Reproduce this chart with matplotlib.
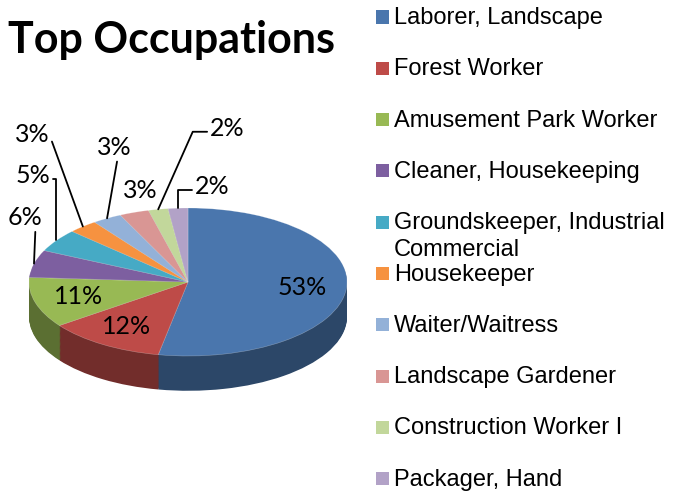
import numpy as np
import matplotlib
matplotlib.use('Agg')
import matplotlib.pyplot as plt
from matplotlib.colors import to_rgb
from matplotlib.patches import Rectangle

# data
occupations = ['Laborer, Landscape', 'Forest Worker', 'Amusement Park Worker',
               'Cleaner, Housekeeping', 'Groundskeeper, Industrial\nCommercial',
               'Housekeeper', 'Waiter/Waitress', 'Landscape Gardener',
               'Construction Worker I', 'Packager, Hand']
shares = [53, 12, 11, 6, 5, 3, 3, 3, 2, 2]
colors = ['#4A76AD', '#BE4B48', '#98B954', '#7D5FA0', '#46AAC5',
          '#F69240', '#93B1D8', '#D99694', '#C2D79B', '#B2A2C7']

W, H = 673, 493
fig = plt.figure(figsize=(W / 100, H / 100), dpi=100)

# pie geometry in pixels (top face ellipse)
cx, cy = 188, 282          # centre, y from top
rx, ry = 159, 74
depth = 0.47               # in units of ry

xl, yl_lo, yl_hi = 1.15, -1.75, 1.25
left = (cx - xl * rx) / W
width = 2 * xl * rx / W
bottom = (H - cy + yl_lo * ry) / H
height = (yl_hi - yl_lo) * ry / H
ax = fig.add_axes([left, bottom, width, height])

side_colors = [tuple(c * 0.6 for c in to_rgb(col)) for col in colors]

# extruded side: stack darker pies downwards
n_layers = 40
for k in range(n_layers, 0, -1):
    ax.pie(shares, colors=side_colors, startangle=90, counterclock=False,
           center=(0, -depth * k / n_layers), radius=1,
           wedgeprops=dict(linewidth=0, antialiased=True))

wedges, _, autotexts = ax.pie(
    shares, colors=colors, startangle=90, counterclock=False,
    center=(0, 0), radius=1,
    autopct=lambda p: f'{p:.0f}%' if p > 10 else '',
    pctdistance=0.72,
    wedgeprops=dict(linewidth=0.4, edgecolor=(1, 1, 1, 0.35)),
    textprops=dict(fontsize=18, family='Lato', color='black'))

ax.set_aspect('auto')
ax.set_xlim(-xl, xl)
ax.set_ylim(yl_lo, yl_hi)
ax.axis('off')

# outside labels with leader lines (offsets in pixels, style only)
label_style = {
    3: dict(off=(-9, 46), conn='arc3', rel=(0.8, 0.0)),
    4: dict(off=(-24, 65), conn='angle,angleA=0,angleB=90,rad=0', rel=(0.5, 0.35)),
    5: dict(off=(-51, 92), conn='angle,angleA=0,angleB=110,rad=0', rel=(0.5, 0.35)),
    6: dict(off=(7, 71), conn='arc3', rel=(0.6, 0.0)),
    7: dict(off=(6, 22), conn=None, rel=None),
    8: dict(off=(69, 81), conn='angle,angleA=0,angleB=66,rad=0', rel=(0.5, 0.35)),
    9: dict(off=(34, 22), conn='angle,angleA=0,angleB=90,rad=0', rel=(0.5, 0.35)),
}
cum = np.cumsum([0] + shares)
total = float(sum(shares))
for i, st in label_style.items():
    mid = (cum[i] + cum[i + 1]) / 2 / total
    theta = np.deg2rad(90 - 360 * mid)
    anchor = (np.cos(theta), np.sin(theta))
    arrow = None
    if st['conn'] is not None:
        arrow = dict(arrowstyle='-', color='black', lw=1.3,
                     connectionstyle=st['conn'], relpos=st['rel'],
                     shrinkA=0, shrinkB=0)
    ax.annotate(f'{shares[i]}%', xy=anchor, xytext=st['off'],
                textcoords='offset pixels', ha='center', va='center',
                fontsize=18, family='Lato', arrowprops=arrow)

# title
fig.text(8 / W, 1 - 40 / H, 'Top Occupations', fontsize=31, fontweight='bold',
         family='Lato', ha='left', va='center')

# legend drawn by hand
for k, (name, col) in enumerate(zip(occupations, colors)):
    y = 17 + 51.3 * k
    fig.patches.append(Rectangle((376 / W, 1 - (y + 6.5) / H), 13 / W, 13 / H,
                                 transform=fig.transFigure, facecolor=col,
                                 edgecolor='none'))
    fig.text(394 / W, 1 - (y - 10) / H, name, fontsize=17,
             family='Liberation Sans', ha='left', va='top', linespacing=1.28)

fig.savefig('out.png', dpi=100)
